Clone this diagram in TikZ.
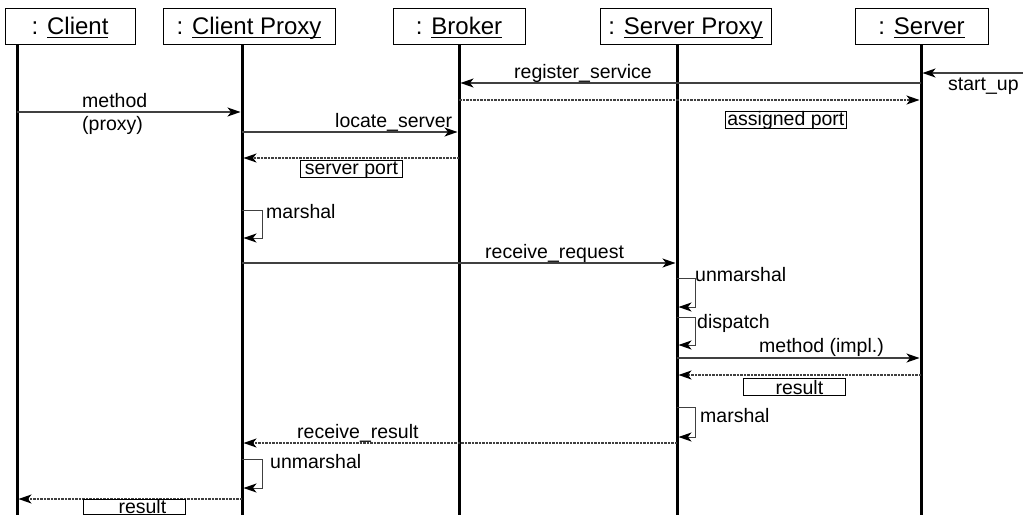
\documentclass[tikz,border=0pt]{standalone}
\usepackage{fontspec}
\setmainfont{Liberation Sans}
\usetikzlibrary{arrows.meta}

% object name with a heavy underline
\newcommand{\objname}[1]{\setbox0\hbox{#1}\rlap{\rule[-3.5pt]{\wd0}{1.3pt}}\box0}

\tikzset{
  obj/.style={draw, line width=0.8pt, minimum height=36pt, inner xsep=0pt,
    text height=17pt, text depth=0pt, font=\fontsize{24}{28}\selectfont},
  life/.style={line width=3pt},
  msg/.style={line width=1.2pt, draw=black!75, shorten >=1.5pt,
    -{Stealth[length=13pt,width=9pt,inset=3.5pt,black]}},
  reply/.style={msg, dash pattern=on 2.5pt off 1pt},
  self/.style={msg, line width=1pt},
  lbl/.style={anchor=base west, inner sep=0pt, font=\fontsize{19.5}{22}\selectfont},
  tag/.style={draw, line width=0.8pt, anchor=north west, inner xsep=0pt, inner ysep=1pt,
    text height=13pt, text depth=2pt, font=\fontsize{19.5}{22}\selectfont},
  restag/.style={tag, text height=15pt, text depth=0pt}
}

\begin{document}
\begin{tikzpicture}[x=1pt, y=-1pt]
\useasboundingbox (0,0) rectangle (1023,515);

% objects
\node[obj, minimum width=130pt] (client) at (70,26) {: \objname{Client}};
\node[obj, minimum width=172pt] (cproxy) at (249,26) {: \objname{Client Proxy}};
\node[obj, minimum width=132pt] (broker) at (459,26) {: \objname{Broker}};
\node[obj, minimum width=171pt] (sproxy) at (685.5,26) {: \objname{Server Proxy}};
\node[obj, minimum width=133pt] (server) at (921.5,26) {: \objname{Server}};

% lifelines
\coordinate (bottom) at (0,515);
\coordinate (cl) at (17,44);
\coordinate (cp) at (242,44);
\coordinate (br) at (459,44);
\coordinate (sp) at (677,44);
\coordinate (sv) at (921,44);
\foreach \l in {cl,cp,br,sp,sv}
  \draw[life] (\l) -- (\l |- bottom);

% registration
\coordinate (startup) at (1023,73);
\draw[msg] (startup) -- (sv |- startup);
\node[lbl] (startuplbl) at (948,90) {start\_up};
\draw[msg] (sv |- 0,83) -- (br |- 0,83);
\node[lbl] (reglbl) at (514,78) {register\_service};
\draw[reply] (br |- 0,100) -- (sv |- 0,100);
\node[tag, minimum width=121pt] (porttag) at (725,111) {assigned port};

% client call
\draw[msg] (cl |- 0,112) -- (cp |- 0,112);
\node[lbl] (methodlbl) at (82,107) {method};
\node[lbl] (proxylbl) at (82,130) {(proxy)};
\draw[msg] (cp |- 0,132) -- (br |- 0,132);
\node[lbl] (locatelbl) at (335,127) {locate\_server};
\draw[reply] (br |- 0,158) -- (cp |- 0,158);
\node[tag, minimum width=102pt] (sporttag) at (300,160) {server port};
\draw[self] (cp |- 0,210) -- ++(20,0) |- (cp |- 0,238);
\node[lbl] (marshal1) at (266,218) {marshal};

% request
\draw[msg] (cp |- 0,263) -- (sp |- 0,263);
\node[lbl] (reqlbl) at (485,258) {receive\_request};
\draw[self] (sp |- 0,278) -- ++(18,0) |- (sp |- 0,307);
\node[lbl] (unmarshal1) at (695,281) {unmarshal};
\draw[self] (sp |- 0,317) -- ++(18,0) |- (sp |- 0,345);
\node[lbl] (dispatchlbl) at (697,328) {dispatch};
\draw[msg] (sp |- 0,358) -- (sv |- 0,358);
\node[lbl] (impllbl) at (759,352) {method (impl.)};
\draw[reply] (sv |- 0,375) -- (sp |- 0,375);
\node[restag, minimum width=102pt] (res1) at (743,378) {\hspace*{10pt}result};

% result back to the client
\draw[self] (sp |- 0,407) -- ++(18,0) |- (sp |- 0,437);
\node[lbl] (marshal2) at (700,422) {marshal};
\draw[reply] (sp |- 0,443) -- (cp |- 0,443);
\node[lbl] (reslbl) at (297,438) {receive\_result};
\draw[self] (cp |- 0,459) -- ++(20,0) |- (cp |- 0,488);
\node[lbl] (unmarshal2) at (270,468) {unmarshal};
\draw[reply] (cp |- 0,499) -- (cl |- 0,499);
\node[restag, minimum width=102pt, text height=13pt] (res2) at (83,499) {\hspace*{16pt}result};
\end{tikzpicture}
\end{document}
